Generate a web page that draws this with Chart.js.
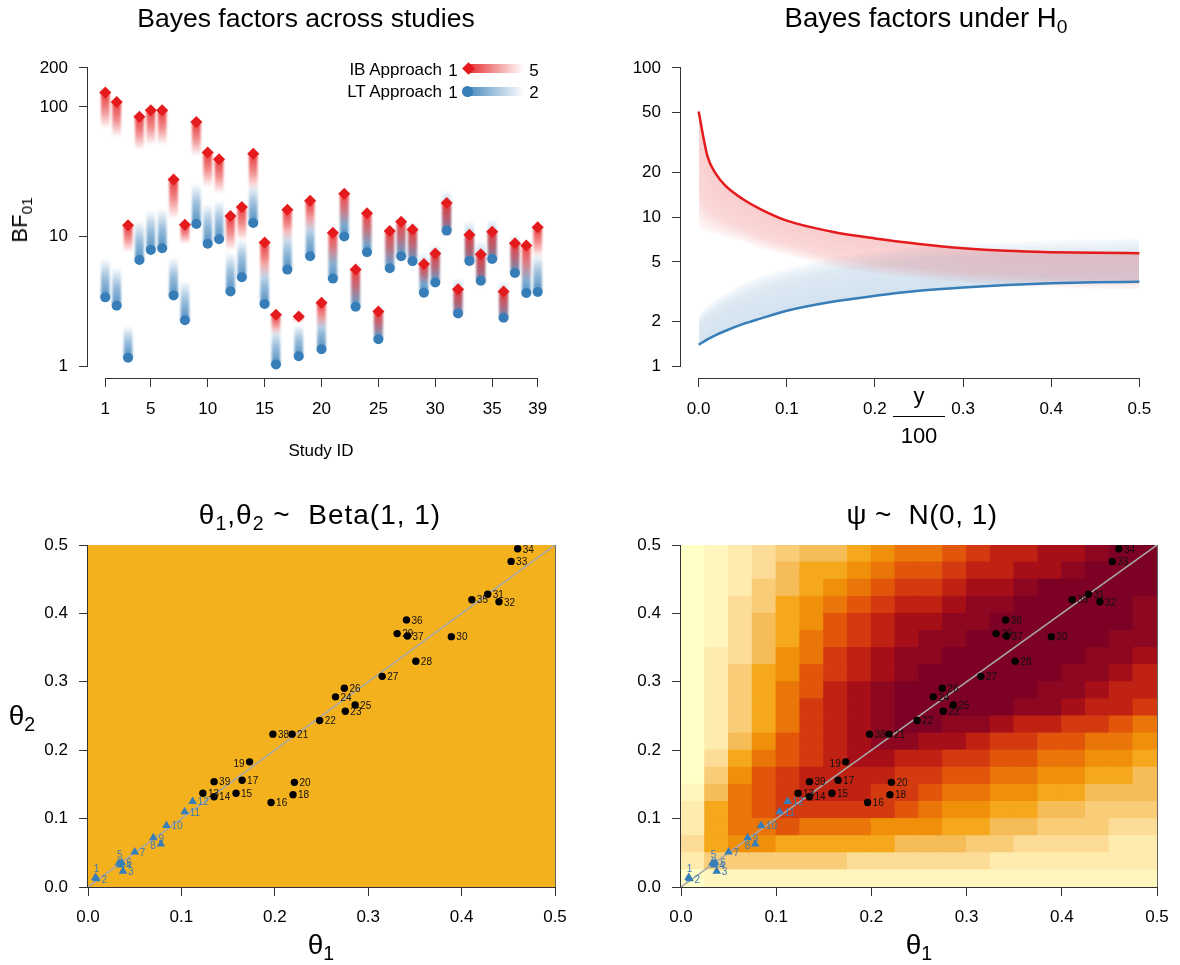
<!DOCTYPE html>
<html>
<head>
<meta charset="utf-8">
<script src="https://cdn.jsdelivr.net/npm/chart.js@4/dist/chart.umd.min.js"></script>
<style>
body { margin: 0; background: #fff; }
#page { position: relative; width: 1180px; height: 965px; overflow: hidden;
        font-family: "Liberation Sans", Arial, sans-serif; color: #000; background: #fff; }
canvas { position: absolute; }
.lbl { position: absolute; white-space: nowrap; line-height: 1; }
.ctr { transform: translate(-50%, -50%); }
sub { font-size: 0.7em; vertical-align: -0.3em; line-height: 0; }
</style>
</head>
<body>
<div id="page">
  <canvas id="tl" width="590" height="482" style="left:0;top:0"></canvas>
  <canvas id="tr" width="590" height="482" style="left:590px;top:0"></canvas>
  <canvas id="bl" width="590" height="483" style="left:0;top:482px"></canvas>
  <canvas id="br" width="590" height="483" style="left:590px;top:482px"></canvas>

  <!-- titles -->
  <div class="lbl ctr" style="left:306px;top:18px;font-size:26.5px">Bayes factors across studies</div>
  <div class="lbl ctr" style="left:926px;top:18px;font-size:27.5px">Bayes factors under H<sub>0</sub></div>
  <div class="lbl ctr" style="left:320px;top:515px;font-size:28px;letter-spacing:1px">θ<sub>1</sub>,θ<sub>2</sub> ~&nbsp; Beta(1, 1)</div>
  <div class="lbl ctr" style="left:922px;top:515px;font-size:28px;letter-spacing:0.5px">ψ ~&nbsp;&nbsp;N(0, 1)</div>

  <!-- axis titles -->
  <div class="lbl ctr" style="left:321px;top:450px;font-size:17px">Study ID</div>
  <div class="lbl" style="left:20px;top:220px;font-size:22px;transform:translate(-50%,-50%) rotate(-90deg)">BF<sub>01</sub></div>
  <div class="lbl" style="left:919px;top:383px;font-size:22px;transform:translateX(-50%);text-align:center">
    <div style="line-height:26px">y</div>
    <div style="border-top:1px solid #000;width:52px;margin-top:7px;padding-top:8px;line-height:22px">100</div>
  </div>
  <div class="lbl ctr" style="left:321px;top:945px;font-size:28px">θ<sub>1</sub></div>
  <div class="lbl ctr" style="left:919px;top:945px;font-size:28px">θ<sub>1</sub></div>
  <div class="lbl ctr" style="left:22px;top:716px;font-size:28px">θ<sub>2</sub></div>

  <!-- legend of the top-left panel -->
  <div class="lbl" style="left:442px;top:69px;font-size:17px;transform:translate(-100%,-50%)">IB Approach</div>
  <div class="lbl ctr" style="left:453px;top:70px;font-size:17px">1</div>
  <div style="position:absolute;left:468px;top:64px;width:56px;height:9px;background:linear-gradient(to right, rgba(228,26,28,0.9), rgba(228,26,28,0.45) 50%, rgba(228,26,28,0));filter:blur(0.6px)"></div>
  <div style="position:absolute;left:464px;top:64px;width:9px;height:9px;background:#e41a1c;transform:rotate(45deg)"></div>
  <div class="lbl ctr" style="left:534px;top:70px;font-size:17px">5</div>

  <div class="lbl" style="left:442px;top:91px;font-size:17px;transform:translate(-100%,-50%)">LT Approach</div>
  <div class="lbl ctr" style="left:453px;top:92px;font-size:17px">1</div>
  <div style="position:absolute;left:468px;top:87px;width:56px;height:9px;background:linear-gradient(to right, rgba(55,126,184,0.9), rgba(55,126,184,0.45) 50%, rgba(55,126,184,0));filter:blur(0.6px)"></div>
  <div style="position:absolute;left:462px;top:86px;width:11px;height:11px;border-radius:50%;background:#377eb8"></div>
  <div class="lbl ctr" style="left:534px;top:92px;font-size:17px">2</div>
</div>

<script>
// ---- top-left: Bayes factors per study ----
const studyIds = [1, 2, 3, 4, 5, 6, 7, 8, 9, 10, 11, 12, 13, 14, 15, 16, 17, 18, 19, 20,
  21, 22, 23, 24, 25, 26, 27, 28, 29, 30, 31, 32, 33, 34, 35, 36, 37, 38, 39];
const studyTicks = [1, 5, 10, 15, 20, 25, 30, 35, 39];
const bfTicks = [1, 10, 100, 200];
// IB approach: BF at parameter 1 (diamond) and at parameter 5 (end of fade)
const ibBF = [129, 109, 12.2, 84.1, 94.3, 94.3, 27.5, 12.3, 76.5, 44.5, 39.5, 14.4, 16.9, 43.5, 9.0,
  2.49, 16.1, 2.41, 18.9, 3.08, 10.7, 21.4, 5.55, 15.1, 2.64, 11.0, 13.0, 11.3, 6.14, 7.38,
  18.1, 3.91, 10.3, 7.30, 10.9, 3.77, 8.87, 8.51, 11.8];
const ibBFEnd = [68.4, 58.2, 7.56, 46.4, 50.8, 50.8, 13.7, 8.78, 41.7, 24.1, 21.4, 7.79, 9.31, 22.7, 4.84,
  1.76, 9.31, 2.2, 11.1, 1.98, 6.14, 12.2, 3.01, 8.51, 1.66, 6.14, 7.34, 6.51, 4.30, 4.56,
  9.88, 2.37, 5.78, 4.05, 6.14, 2.23, 5.14, 4.56, 6.91];
// LT approach: BF at parameter 1 (circle) and at parameter 2 (end of fade)
const ltBF = [3.39, 2.92, 1.16, 6.59, 7.88, 8.12, 3.51, 2.26, 12.5, 8.78, 9.53, 3.77, 4.84, 12.7, 3.01,
  1.03, 5.55, 1.19, 7.04, 1.35, 4.73, 10.0, 2.87, 7.56, 1.61, 5.68, 7.04, 6.44, 3.68, 4.42,
  11.1, 2.55, 6.48, 4.56, 6.71, 2.36, 5.23, 3.66, 3.73];
const ltBFEnd = [6.71, 5.78, 2.04, 13.3, 15.9, 16.4, 6.91, 4.56, 25.6, 17.9, 19.0, 7.56, 9.6, 25.6, 6.14,
  1.98, 11.1, 2.10, 14.1, 2.52, 9.88, 20.8, 5.78, 15.0, 2.83, 11.8, 14.1, 12.9, 7.56, 8.78,
  22.7, 4.84, 13.3, 9.31, 13.7, 4.56, 10.5, 7.34, 7.34];

// ---- top-right: Bayes factors under H0 ----
const propGrid = [0, 0.01, 0.02, 0.03, 0.05, 0.07, 0.1, 0.15, 0.2, 0.25, 0.3, 0.35, 0.4, 0.45, 0.5];
const propTicks = [0, 0.1, 0.2, 0.3, 0.4, 0.5];
const nullTicks = [1, 2, 5, 10, 20, 50, 100];
const ibNull = [51, 25.6, 19.3, 16.3, 13.2, 11.3, 9.45, 8.0, 7.18, 6.6, 6.18, 5.93, 5.81, 5.75, 5.72];
const ibNullLow = [8.43, 8.0, 7.7, 7.4, 6.86, 6.2, 5.57, 4.65, 4.19, 3.88, 3.65, 3.5, 3.37, 3.3, 3.27];
const ltNull = [1.39, 1.51, 1.62, 1.72, 1.91, 2.08, 2.35, 2.69, 2.96, 3.2, 3.37, 3.5, 3.59, 3.65, 3.68];
const ltNullHigh = [2.2, 2.5, 2.8, 3.05, 3.59, 4.0, 4.53, 5.29, 5.87, 6.3, 6.58, 6.8, 6.96, 7.06, 7.14];

// ---- bottom: estimated (theta1, theta2) per study ----
const theta1 = [0.008, 0.009, 0.0375, 0.035, 0.033, 0.036, 0.050, 0.078, 0.070, 0.084, 0.1035, 0.112,
  0.123, 0.135, 0.1585, 0.196, 0.165, 0.2195, 0.173, 0.221, 0.2185, 0.248, 0.2755, 0.265, 0.286,
  0.2745, 0.315, 0.351, 0.331, 0.389, 0.428, 0.440, 0.453, 0.460, 0.411, 0.341, 0.342, 0.198, 0.135];
const theta2 = [0.014, 0.012, 0.023, 0.032, 0.035, 0.036, 0.051, 0.063, 0.072, 0.090, 0.110, 0.125,
  0.137, 0.132, 0.137, 0.1235, 0.156, 0.135, 0.183, 0.153, 0.2235, 0.2435, 0.257, 0.278, 0.266,
  0.2905, 0.308, 0.330, 0.3705, 0.366, 0.428, 0.417, 0.476, 0.4945, 0.420, 0.3905, 0.367, 0.2235, 0.154];
const thetaTicks = [0, 0.1, 0.2, 0.3, 0.4, 0.5];
const diagLine = [0, 0.5];

// heat map under psi ~ N(0,1): colour level per cell, rows from theta2 = 0.5 down to 0
const heatBreaks = [0, 0.025, 0.05, 0.075, 0.1, 0.125, 0.15, 0.175, 0.2, 0.225, 0.25,
  0.275, 0.3, 0.325, 0.35, 0.375, 0.4, 0.425, 0.45, 0.475, 0.5];
const heatLevels = [
  [0, 1, 2, 3, 4, 5, 5, 6, 7, 8, 8, 9, 10, 11, 11, 12, 12, 13, 14, 14],
  [0, 1, 2, 3, 5, 6, 6, 7, 8, 9, 9, 10, 11, 11, 12, 12, 13, 14, 14, 14],
  [0, 1, 2, 4, 5, 6, 7, 8, 9, 10, 10, 11, 12, 12, 13, 14, 14, 14, 14, 14],
  [0, 1, 3, 4, 6, 7, 8, 9, 10, 11, 11, 12, 13, 13, 14, 14, 14, 14, 14, 13],
  [0, 1, 3, 5, 6, 7, 9, 10, 11, 12, 12, 13, 13, 14, 14, 14, 14, 14, 14, 13],
  [0, 1, 3, 5, 6, 8, 9, 10, 11, 12, 13, 13, 14, 14, 14, 14, 14, 14, 13, 13],
  [0, 2, 3, 5, 7, 8, 10, 11, 12, 13, 13, 14, 14, 14, 14, 14, 14, 13, 13, 12],
  [0, 2, 4, 6, 7, 9, 10, 11, 12, 13, 14, 14, 14, 14, 14, 14, 13, 13, 12, 11],
  [0, 2, 4, 6, 8, 9, 11, 12, 13, 14, 14, 14, 14, 14, 14, 13, 13, 12, 11, 11],
  [0, 2, 4, 6, 8, 10, 11, 12, 13, 14, 14, 14, 14, 14, 13, 13, 12, 11, 11, 10],
  [0, 2, 4, 6, 8, 10, 11, 12, 13, 14, 14, 13, 13, 12, 11, 11, 10, 10, 9, 8],
  [0, 2, 5, 7, 9, 10, 11, 12, 13, 13, 12, 12, 11, 10, 10, 9, 9, 8, 8, 7],
  [0, 3, 6, 8, 9, 10, 11, 12, 12, 11, 11, 10, 10, 9, 9, 8, 8, 7, 7, 6],
  [0, 4, 7, 9, 10, 11, 11, 11, 11, 10, 10, 9, 9, 8, 8, 7, 7, 6, 6, 5],
  [1, 5, 8, 9, 10, 11, 11, 11, 10, 10, 9, 8, 8, 7, 7, 6, 6, 5, 5, 5],
  [2, 6, 8, 9, 10, 10, 10, 10, 10, 9, 8, 7, 7, 6, 6, 5, 5, 4, 4, 4],
  [2, 6, 8, 8, 9, 8, 8, 8, 7, 7, 7, 6, 6, 5, 5, 4, 4, 4, 3, 3],
  [3, 6, 7, 7, 6, 6, 6, 6, 6, 5, 5, 5, 4, 4, 3, 3, 3, 3, 2, 2],
  [2, 4, 4, 4, 4, 4, 4, 3, 3, 3, 3, 3, 3, 2, 2, 2, 2, 2, 2, 2],
  [0, 1, 1, 1, 1, 1, 1, 1, 1, 1, 1, 1, 1, 1, 1, 1, 1, 1, 1, 1]
];
const heatPalette = ['#FFFFC8', '#FFF6BE', '#FEEBAE', '#FCDC96', '#F9CC78', '#F6BC58', '#F5A81C',
  '#F0900A', '#EA7508', '#E2560C', '#D43A10', '#BF2212', '#A70F18', '#8E0720', '#7D0025'];

// ------------------------------------------------------------------
Chart.defaults.font.family = '"Liberation Sans", Arial, sans-serif';
Chart.defaults.font.size = 17;
Chart.defaults.color = '#000';

const red = a => `rgba(228,26,28,${a})`;
const blue = a => `rgba(55,126,184,${a})`;

function rScale(o) {
  return {
    type: o.type || 'linear',
    min: o.min,
    max: o.max,
    offset: false,
    stacked: false,
    border: { display: false },
    grid: { display: true, drawOnChartArea: false, drawTicks: true, tickLength: 9,
            color: '#333', lineWidth: 1, offset: false },
    ticks: { autoSkip: false, maxRotation: 0, padding: o.pad, color: '#000',
             font: { size: 17 }, callback: v => o.fmt(v) },
    afterBuildTicks: s => { s.ticks = o.ticks.map(v => ({ value: v })); },
    afterFit: s => { if (o.horizontal) s.height = o.size; else s.width = o.size; }
  };
}

// R-like axis line running from the first to the last tick
const rAxes = {
  id: 'rAxes',
  afterDraw(chart) {
    const { ctx, chartArea } = chart;
    ctx.save();
    ctx.strokeStyle = '#333';
    ctx.lineWidth = 1;
    ['x', 'y'].forEach(id => {
      const s = chart.scales[id];
      const a = s.getPixelForValue(s.ticks[0].value);
      const b = s.getPixelForValue(s.ticks[s.ticks.length - 1].value);
      ctx.beginPath();
      if (s.isHorizontal()) {
        const yy = Math.round(chartArea.bottom) + 0.5;
        ctx.moveTo(a, yy); ctx.lineTo(b, yy);
      } else {
        const xx = Math.round(chartArea.left) - 0.5;
        ctx.moveTo(xx, a); ctx.lineTo(xx, b);
      }
      ctx.stroke();
    });
    ctx.restore();
  }
};

// soften the fading bars a little
const softBars = {
  id: 'softBars',
  beforeDatasetDraw(chart, args) {
    if (chart.data.datasets[args.index].soft) chart.ctx.filter = 'blur(0.9px)';
  },
  afterDatasetDraw(chart) { chart.ctx.filter = 'none'; }
};

function fadeFill(from, to, col) {
  return c => {
    const chart = c.chart;
    if (c.type !== 'data' || !chart.chartArea) return col(0.5);
    const ys = chart.scales.y;
    const y0 = ys.getPixelForValue(from[c.dataIndex]);
    const y1 = ys.getPixelForValue(to[c.dataIndex]);
    if (!isFinite(y0) || !isFinite(y1) || y0 === y1) return col(0.5);
    const g = chart.ctx.createLinearGradient(0, y0, 0, y1);
    g.addColorStop(0, col(0.85));
    g.addColorStop(0.5, col(0.5));
    g.addColorStop(1, col(0));
    return g;
  };
}

// top-left chart
new Chart(document.getElementById('tl'), {
  type: 'bar',
  data: {
    datasets: [
      { type: 'scatter', label: 'IB Approach', order: 0, clip: false,
        data: studyIds.map((id, i) => ({ x: id, y: ibBF[i] })),
        pointStyle: 'rectRot', pointRadius: 6, pointBorderWidth: 0,
        backgroundColor: '#e41a1c', borderColor: '#e41a1c' },
      { type: 'scatter', label: 'LT Approach', order: 1, clip: false,
        data: studyIds.map((id, i) => ({ x: id, y: ltBF[i] })),
        pointStyle: 'circle', pointRadius: 5, pointBorderWidth: 0,
        backgroundColor: '#377eb8', borderColor: '#377eb8' },
      { label: 'IB fade', order: 2, soft: true, grouped: false, barThickness: 8, borderWidth: 0,
        data: studyIds.map((id, i) => ({ x: id, y: [ibBFEnd[i], ibBF[i]] })),
        backgroundColor: fadeFill(ibBF, ibBFEnd, red) },
      { label: 'LT fade', order: 3, soft: true, grouped: false, barThickness: 8, borderWidth: 0,
        data: studyIds.map((id, i) => ({ x: id, y: [ltBF[i], ltBFEnd[i]] })),
        backgroundColor: fadeFill(ltBF, ltBFEnd, blue) }
    ]
  },
  options: {
    responsive: false,
    animation: false,
    events: [],
    layout: { padding: { top: 56, right: 35, left: 0, bottom: 0 } },
    plugins: { legend: { display: false }, tooltip: { enabled: false } },
    scales: {
      x: rScale({ min: -0.52, max: 40.52, ticks: studyTicks, fmt: v => String(v),
                  horizontal: true, size: 104, pad: 12 }),
      y: rScale({ type: 'logarithmic', min: 0.809, max: 247, ticks: bfTicks,
                  fmt: v => String(v), size: 88, pad: 11 })
    }
  },
  plugins: [rAxes, softBars]
});

// fading bands between each curve and its far bound
const nullBands = {
  id: 'nullBands',
  beforeDatasetsDraw(chart) {
    const { ctx, scales: { x, y } } = chart;
    const bands = [
      { edge: ltNull, far: ltNullHigh, col: blue },
      { edge: ibNull, far: ibNullLow, col: red }
    ];
    ctx.save();
    bands.forEach(b => {
      for (let i = 0; i < propGrid.length - 1; i++) {
        const x0 = Math.round(x.getPixelForValue(propGrid[i]));
        const x1 = Math.round(x.getPixelForValue(propGrid[i + 1]));
        const e0 = y.getPixelForValue(b.edge[i]), e1 = y.getPixelForValue(b.edge[i + 1]);
        const f0 = y.getPixelForValue(b.far[i]), f1 = y.getPixelForValue(b.far[i + 1]);
        for (let px = x0; px < x1; px++) {
          const t = (px + 0.5 - x0) / (x1 - x0);
          const e = e0 + t * (e1 - e0);
          const f = f0 + t * (f1 - f0);
          const g = ctx.createLinearGradient(0, e, 0, f);
          g.addColorStop(0, b.col(0.22));
          g.addColorStop(0.7, b.col(0.17));
          g.addColorStop(1, b.col(0.03));
          ctx.fillStyle = g;
          ctx.fillRect(px, Math.min(e, f), 1, Math.abs(f - e));
        }
      }
    });
    ctx.restore();
  }
};

// top-right chart
new Chart(document.getElementById('tr'), {
  type: 'line',
  data: {
    datasets: [
      { label: 'IB', data: propGrid.map((p, i) => ({ x: p, y: ibNull[i] })),
        borderColor: '#e41a1c', borderWidth: 2.5, pointRadius: 0, cubicInterpolationMode: 'monotone' },
      { label: 'LT', data: propGrid.map((p, i) => ({ x: p, y: ltNull[i] })),
        borderColor: '#377eb8', borderWidth: 2.5, pointRadius: 0, cubicInterpolationMode: 'monotone' }
    ]
  },
  options: {
    responsive: false,
    animation: false,
    events: [],
    layout: { padding: { top: 56, right: 23, left: 0, bottom: 0 } },
    plugins: { legend: { display: false }, tooltip: { enabled: false } },
    scales: {
      x: rScale({ min: -0.02, max: 0.52, ticks: propTicks, fmt: v => v.toFixed(1),
                  horizontal: true, size: 104, pad: 12 }),
      y: rScale({ type: 'logarithmic', min: 0.832, max: 120.2, ticks: nullTicks,
                  fmt: v => String(v), size: 91, pad: 11 })
    }
  },
  plugins: [nullBands, rAxes]
});

// ---- bottom panels ----
const tagSide = { 1: 'top', 5: 'top', 8: 'left', 19: 'left' };
const pointTags = {
  id: 'pointTags',
  afterDatasetsDraw(chart) {
    const ctx = chart.ctx;
    ctx.save();
    ctx.font = '10px "Liberation Sans", Arial, sans-serif';
    ctx.textBaseline = 'middle';
    chart.data.datasets.forEach((ds, di) => {
      if (!ds.tags) return;
      ctx.fillStyle = ds.tagColor;
      chart.getDatasetMeta(di).data.forEach((pt, i) => {
        const id = ds.tags[i];
        const side = tagSide[id] || 'right';
        let tx = pt.x, ty = pt.y + 1;
        if (side === 'right') { ctx.textAlign = 'left'; tx += 5; }
        else if (side === 'left') { ctx.textAlign = 'right'; tx -= 5; ty += 1; }
        else { ctx.textAlign = 'center'; ty -= 9; tx += 1; }
        ctx.fillText(String(id), tx, ty);
      });
    });
    ctx.restore();
  }
};

const plotEdge = {
  id: 'plotEdge',
  beforeDatasetsDraw(chart, args, opts) {
    const { ctx, chartArea: a } = chart;
    if (opts.fill) {
      ctx.save();
      ctx.fillStyle = opts.fill;
      ctx.fillRect(a.left, a.top, a.right - a.left, a.bottom - a.top);
      ctx.restore();
    }
  },
  afterDatasetsDraw(chart) {
    const { ctx, chartArea: a } = chart;
    ctx.save();
    ctx.strokeStyle = '#666';
    ctx.lineWidth = 1;
    ctx.beginPath();
    ctx.moveTo(Math.round(a.right) + 0.5, a.top);
    ctx.lineTo(Math.round(a.right) + 0.5, a.bottom);
    ctx.stroke();
    ctx.restore();
  }
};

function thetaDatasets() {
  const tri = [], dot = [], triIds = [], dotIds = [];
  studyIds.forEach((id, i) => {
    if (id <= 12) { tri.push({ x: theta1[i], y: theta2[i] }); triIds.push(id); }
    else { dot.push({ x: theta1[i], y: theta2[i] }); dotIds.push(id); }
  });
  return [
    { type: 'scatter', label: 'low', order: 0, clip: false, data: tri, tags: triIds, tagColor: '#3d7ab5',
      pointStyle: 'triangle', pointRadius: 5, pointBorderWidth: 0,
      backgroundColor: '#377eb8', borderColor: '#377eb8' },
    { type: 'scatter', label: 'high', order: 1, clip: false, data: dot, tags: dotIds, tagColor: '#111',
      pointStyle: 'circle', pointRadius: 3.7, pointBorderWidth: 0,
      backgroundColor: '#000', borderColor: '#000' },
    { type: 'line', label: 'diagonal', order: 2, data: diagLine.map(v => ({ x: v, y: v })),
      borderColor: '#a8a8a8', borderWidth: 1.5, pointRadius: 0 }
  ];
}

function thetaOptions(ySize, rightPad, extraScales, fill) {
  return {
    responsive: false,
    animation: false,
    events: [],
    layout: { padding: { top: 63, right: rightPad, left: 0, bottom: 0 } },
    plugins: { legend: { display: false }, tooltip: { enabled: false }, plotEdge: { fill } },
    scales: Object.assign({
      x: rScale({ min: 0, max: 0.5, ticks: thetaTicks, fmt: v => v.toFixed(1),
                  horizontal: true, size: 78, pad: 11 }),
      y: rScale({ min: 0, max: 0.5, ticks: thetaTicks, fmt: v => v.toFixed(1),
                  size: ySize, pad: 11 })
    }, extraScales)
  };
}

// bottom-left chart: uniform prior
new Chart(document.getElementById('bl'), {
  type: 'scatter',
  data: { datasets: thetaDatasets() },
  options: thetaOptions(88, 35, {}, '#f4b11e'),
  plugins: [plotEdge, pointTags, rAxes]
});

// bottom-right chart: heat map of the normal prior on psi
const heatCols = heatBreaks.slice(0, 20).map(v => v.toFixed(3));
const heatCells = [], heatColors = [];
heatLevels.forEach((row, r) => {
  row.forEach((lev, c) => {
    heatCells.push({ x: heatCols[c], y: [heatBreaks[19 - r], heatBreaks[20 - r]] });
    heatColors.push(heatPalette[lev]);
  });
});
new Chart(document.getElementById('br'), {
  type: 'bar',
  data: {
    datasets: thetaDatasets().concat([
      { type: 'bar', label: 'density', order: 10, xAxisID: 'xc', yAxisID: 'y',
        data: heatCells, backgroundColor: heatColors, borderWidth: 0,
        grouped: false, barThickness: 24, inflateAmount: 0.5 }
    ])
  },
  options: thetaOptions(91, 23, {
    xc: { type: 'category', labels: heatCols, display: false, offset: true,
          grid: { display: false }, ticks: { display: false } }
  }, null),
  plugins: [plotEdge, pointTags, rAxes]
});
</script>
</body>
</html>
